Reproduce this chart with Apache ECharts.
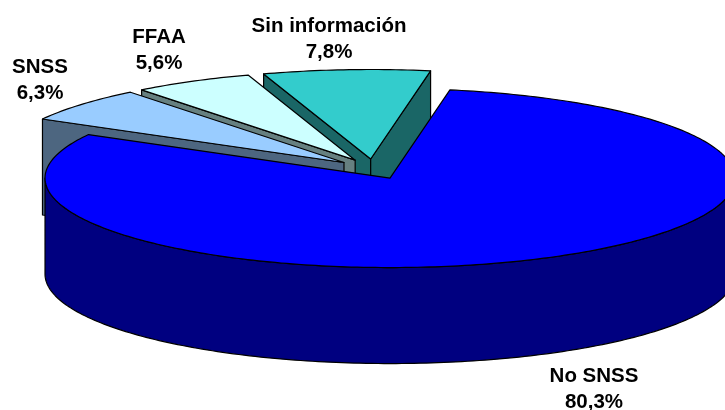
<!DOCTYPE html>
<html>
<head>
<meta charset="utf-8">
<style>html,body{margin:0;padding:0;background:#fff}#c{width:725px;height:410px}</style>
<script src="https://cdn.jsdelivr.net/npm/echarts@6/dist/echarts.min.js"></script>
</head>
<body>
<div id="c"></div>
<script>
// Data, clockwise from the first slice
const categories = ['No SNSS', 'SNSS', 'FFAA', 'Sin información'];
const values = [80.3, 6.3, 5.6, 7.8];

// Styles and layout
const topColors = ['#0000FF', '#99CCFF', '#CCFFFF', '#33CCCC'];
const sideColors = ['#000080', '#4D6680', '#668080', '#1A6666'];
const labelCentres = [[594, 389], [40, 80], [159, 50], [329, 39.5]];
const firstAngle = 10, cx = 373.4, cy = 169, rx = 345, ry = 89.5, depth = 96, explode = 0.112;

const rad = d => d * Math.PI / 180;
const total = values.reduce((a, b) => a + b, 0);

function renderSlice(params, api) {
  const i = api.value(0);
  let start = firstAngle;
  for (let k = 0; k < i; k++) start += values[k] / total * 360;
  const sweep = api.value(1) / total * 360, end = start + sweep, mid = start + sweep / 2;
  const ax = cx + explode * rx * Math.sin(rad(mid));
  const ay = cy - explode * ry * Math.cos(rad(mid));
  const pt = (a, dz) => [ax + rx * Math.sin(rad(a)), ay - ry * Math.cos(rad(a)) + (dz || 0)];
  const arc = (a, b, dz) => {
    const n = Math.max(2, Math.ceil(Math.abs(b - a))), out = [];
    for (let s = 0; s <= n; s++) out.push(pt(a + (b - a) * s / n, dz));
    return out;
  };
  const style = fill => ({ fill: fill, stroke: '#000', lineWidth: 1.2, lineJoin: 'round' });
  const poly = (points, fill) => ({ type: 'polygon', shape: { points: points }, style: style(fill), silent: true });
  const children = [];
  const side = sideColors[i];
  const face = a => poly([[ax, ay], pt(a), pt(a, depth), [ax, ay + depth]], side);
  // radial faces turned towards the viewer
  if (Math.cos(rad(start - 90)) < 0) children.push(face(start));
  if (Math.cos(rad(end + 90)) < 0) children.push(face(end));
  // outer wall: the front half of the rim
  const w0 = Math.max(start, 90), w1 = Math.min(end, 270);
  if (w1 > w0) children.push(poly(arc(w0, w1).concat(arc(w1, w0, depth)), side));
  // top face
  children.push(poly([[ax, ay]].concat(arc(start, end)), topColors[i]));
  // label
  children.push({
    type: 'text',
    silent: true,
    style: {
      x: labelCentres[i][0], y: labelCentres[i][1],
      text: categories[i] + '\n' + api.value(1).toFixed(1).replace('.', ',') + '%',
      fill: '#000', align: 'center', verticalAlign: 'middle',
      font: 'bold 20.5px "Liberation Sans", Arial, sans-serif', lineHeight: 26
    }
  });
  return { type: 'group', children: children };
}

// painted back to front: last slice first
const rows = categories.map((c, i) => [i, values[i]]).reverse();

const chart = echarts.init(document.getElementById('c'), null, { renderer: 'canvas' });
chart.setOption({
  animation: false,
  backgroundColor: '#fff',
  series: [{
    type: 'custom',
    coordinateSystem: 'none',
    clip: false,
    renderItem: renderSlice,
    data: rows
  }]
});
</script>
</body>
</html>
